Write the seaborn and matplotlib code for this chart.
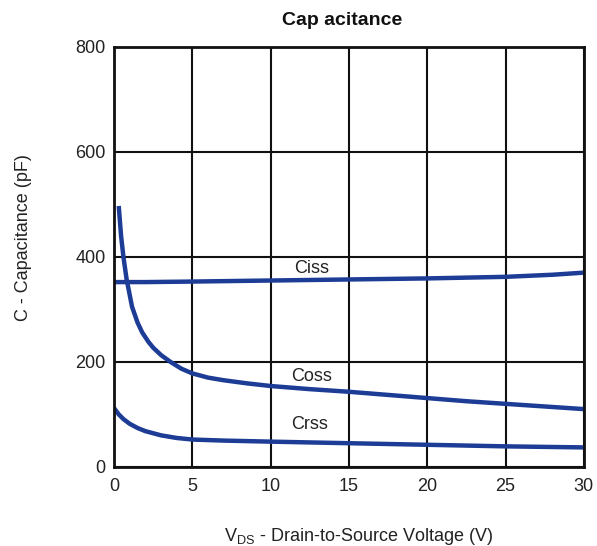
import matplotlib
matplotlib.use("Agg")
import matplotlib.pyplot as plt
import seaborn as sns
import pandas as pd

# values
ciss_v = [0, 2, 5, 10, 15, 20, 25, 28, 30]
ciss_c = [352, 352, 353, 355, 357, 359, 362, 366, 370]

coss_v = [0.3, 0.45, 0.6, 0.8, 1.15, 1.5, 1.8, 2.2, 2.5, 3.0, 3.6, 4.3, 5, 6, 7, 8.5, 10, 12.5, 15, 17.5, 20, 22.5, 25, 27.5, 30]
coss_c = [497, 440, 400, 358, 305, 275, 256, 238, 227, 213, 200, 187, 178, 170, 165, 159, 154, 148, 143, 137, 131, 125, 120, 115, 110]

crss_v = [0, 0.3, 0.6, 1, 1.5, 2, 3, 4, 5, 7, 10, 15, 20, 25, 30]
crss_c = [112, 100, 91, 82, 74, 68, 60, 55, 52, 50, 48, 45, 42, 39, 37]

labels = ["Ciss", "Coss", "Crss"]
label_x = [12.6, 12.6, 12.5]
label_y = [378, 173, 80]

x_ticks = [0, 5, 10, 15, 20, 25, 30]
y_ticks = [0, 200, 400, 600, 800]

sns.set_theme(style="white")
plt.rcParams["font.family"] = ["Liberation Sans", "DejaVu Sans"]

fig = plt.figure(figsize=(5.97, 5.46), dpi=100)
ax = fig.add_axes([0.191, 0.145, 0.787, 0.769])

blue = "#1d3c96"
for v, c in [(ciss_v, ciss_c), (coss_v, coss_c), (crss_v, crss_c)]:
    df = pd.DataFrame({"v": v, "c": c})
    sns.lineplot(data=df, x="v", y="c", ax=ax, color=blue, linewidth=3.2,
                 solid_capstyle="butt")

for t, lx, ly in zip(labels, label_x, label_y):
    ax.text(lx, ly, t, ha="center", va="center", fontsize=13, color="#222222")

ax.set_xlim(0, 30)
ax.set_ylim(0, 800)
ax.set_xticks(x_ticks)
ax.set_yticks(y_ticks)
ax.grid(True, color="#111111", linewidth=1.5)
ax.set_axisbelow(True)
for s in ax.spines.values():
    s.set_color("#111111")
    s.set_linewidth(2)
ax.tick_params(axis="both", labelsize=13, colors="#222222", length=0)
ax.tick_params(axis="x", pad=8)
ax.tick_params(axis="y", pad=6)

fig.text(0.573, 0.963, "Cap acitance", fontsize=14, fontweight="bold",
         ha="center", va="center", color="#111111")
ax.set_xlabel(r"V$_{\mathregular{DS}}$ - Drain-to-Source Voltage (V)", fontsize=13,
              color="#222222")
ax.xaxis.set_label_coords(0.52, -0.142)
ax.set_ylabel("C - Capacitance (pF)", fontsize=13, color="#222222")
ax.yaxis.set_label_coords(-0.175, 0.545)

fig.savefig("out.png", dpi=100)
